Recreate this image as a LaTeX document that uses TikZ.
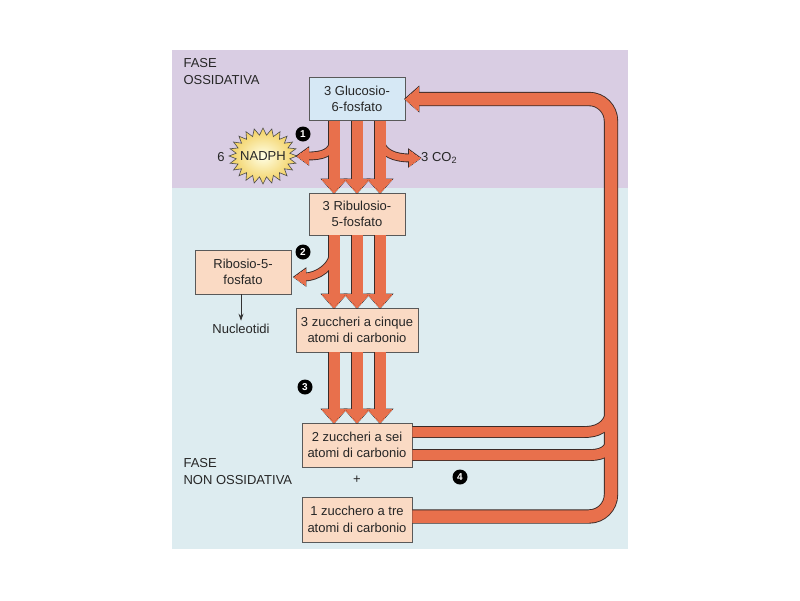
\documentclass[tikz,border=0pt]{standalone}
\usepackage{fontspec}
\setmainfont{Liberation Sans}
\usetikzlibrary{calc,arrows.meta}

\definecolor{lila}{HTML}{D9CDE3}
\definecolor{azzurro}{HTML}{DDECF0}
\definecolor{boxblu}{HTML}{D6E8F5}
\definecolor{pesca}{HTML}{FADAC4}
\definecolor{freccia}{HTML}{E8704C}
\definecolor{bordo}{HTML}{3B2B28}
\definecolor{giallo}{HTML}{F2CF5E}

\tikzset{
  arrband/.style={draw=\arrcol, line width=#1+\arredge},
  arrtip/.style={draw=\arrcol, fill=\arrcol, line width=\arredge},
  bighead/.pic={\path[pic actions] (0,0) -- (-13,11.5) -- (-13,-11.5) -- cycle;},
  smallhead/.pic={\path[pic actions] (0,0) -- (-11,8) -- (-11,-8) -- cycle;}
}

\begin{document}
\begin{tikzpicture}[x=1pt, y=-1pt,
  every node/.style={font=\fontsize{13}{16.5}\selectfont, text=black!85},
  box/.style={draw=black!65, line width=0.8pt, fill=pesca, align=center,
    minimum width=96pt, minimum height=44pt, inner sep=2pt},
  numdot/.style={circle, fill=black, text=white, inner sep=0pt, minimum size=15pt,
    font=\bfseries\fontsize{10}{10}\selectfont}]
\fill[white] (0,0) rectangle (800,600);
\fill[lila] (172,50) rectangle (628,188);
\fill[azzurro] (172,188) rectangle (628,549);
\node[anchor=north west, align=left] (FOX) at (180,55) {FASE\\OSSIDATIVA};
\node[anchor=north west, align=left] (FNOX) at (180,455) {FASE\\NON OSSIDATIVA};

% boxes
\node[box, fill=boxblu, minimum height=43pt] (G6P) at (357,99) {3 Glucosio-\\6-fosfato};
\node[box, minimum height=42pt] (Ru5P) at (357,214) {3 Ribulosio-\\5-fosfato};
\node[box] (R5P) at (243,272) {Ribosio-5-\\fosfato};
\node[box, minimum width=122pt] (C5) at (357,330) {3 zuccheri a cinque\\atomi di carbonio};
\node[box, minimum width=110pt] (C6) at (357,445) {2 zuccheri a sei\\atomi di carbonio};
\node[box, minimum width=110pt, minimum height=45pt] (C3) at (357,519.5) {1 zucchero a tre\\atomi di carbonio};
\node (PLUS) at (357,480) {+};
\node (NUC) at (241,329) {Nucleotidi};
\draw[-{Stealth[length=7pt, width=5pt]}, line width=0.8pt, black!80] (R5P.south -| NUC) -- (NUC.north);

% NADPH star
\coordinate (S) at (263,156);
\shadedraw[shift={(S)}, inner color=yellow!10, outer color=giallo, draw=black!70, line width=0.6pt]
  plot[samples=49, domain=0:48, variable=\k]
  ({(34-7*mod(round(\k),2))*cos(7.5*\k)}, {(28-7*mod(round(\k),2))*sin(7.5*\k)}) -- cycle;
\node[minimum width=68pt, inner sep=0pt] (NADPH) at (S) {NADPH};
\node (SIX) at (221,157) {6};
\node[anchor=west, inner sep=1pt] (CO2) at (420,158) {3 CO\textsubscript{2}};

% step numbers
\node[numdot] (D1) at (303,134) {1};
\node[numdot] (D2) at (303,252) {2};
\node[numdot] (D3) at (305,387) {3};
\node[numdot] (D4) at (460,477) {4};

% arrows: dark outline first, orange on top
\coordinate (RX) at (611,0);
\coordinate (J1) at (611,410);
\coordinate (J2) at (611,440);
\foreach \arrcol/\arredge in {bordo/1.8pt, freccia/0pt} {
  \foreach \dx in {-23,0,23} {
    \draw[arrband=11pt] ($(G6P.south)+(\dx,0)$) -- ($(Ru5P.north)+(\dx,-6)$);
    \draw[arrband=11pt] ($(Ru5P.south)+(\dx,0)$) -- ($(C5.north)+(\dx,-6)$);
    \draw[arrband=11pt] ($(C5.south)+(\dx,0)$) -- ($(C6.north)+(\dx,-6)$);
    \pic[arrtip, rotate=-90] at ($(Ru5P.north)+(\dx,0)$) {bighead};
    \pic[arrtip, rotate=-90] at ($(C5.north)+(\dx,0)$) {bighead};
    \pic[arrtip, rotate=-90] at ($(C6.north)+(\dx,0)$) {bighead};
  }
  \draw[arrband=7pt] ($(G6P.south)+(-23,17)$) .. controls +(0,16) and +(14,0) .. ($(NADPH.east)+(10,0)$);
  \pic[arrtip, rotate=180] at (NADPH.east) {smallhead};
  \draw[arrband=7pt] ($(G6P.south)+(23,17)$) .. controls +(0,16) and +(-14,0) .. ($(CO2.west)+(-10,0)$);
  \pic[arrtip] at (CO2.west) {smallhead};
  \draw[arrband=7pt] ($(Ru5P.south)+(-23,14)$) .. controls +(0,18) and +(12,0) .. ($(R5P.east)+(13,5)$);
  \pic[arrtip, rotate=180] at ($(R5P.east)+(3,5)$) {smallhead};
  \draw[arrband=12.5pt, rounded corners=22pt] ($(C3.east)+(0,-3)$) -| (RX |- G6P.east) -- ($(G6P.east)+(7,0)$);
  \pic[arrtip, rotate=180] at (G6P.east) {bighead};
  \draw[arrband=10pt] ($(C6.east)+(0,-13)$) -- ++(172,0) .. controls +(20,0) and +(0,10) .. (J1);
  \draw[arrband=10pt] ($(C6.east)+(0,10)$) -- ++(178,0) .. controls +(15,0) and +(0,8) .. (J2);
}
\end{tikzpicture}
\end{document}
